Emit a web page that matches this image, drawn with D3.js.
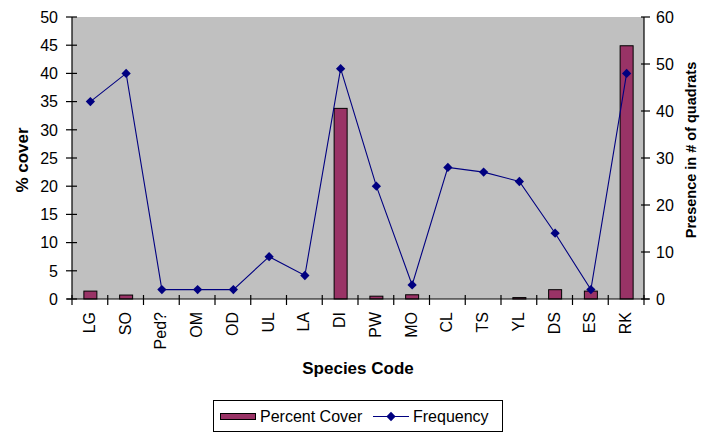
<!DOCTYPE html>
<html><head><meta charset="utf-8">
<script src="https://cdn.jsdelivr.net/npm/d3@7"></script>
<style>body{margin:0;background:#fff}svg{display:block}text{font-family:"Liberation Sans",Arial,sans-serif}</style>
</head><body>
<script>
const categories = ["LG","SO","Ped?","OM","OD","UL","LA","DI","PW","MO","CL","TS","YL","DS","ES","RK"];
const percentCover = [1.4,0.7,0,0,0,0,0,33.8,0.5,0.75,0,0,0.25,1.65,1.4,44.9];
const frequency = [42,48,2,2,2,9,5,49,24,3,28,27,25,14,2,48];
const leftTicks = [0,5,10,15,20,25,30,35,40,45,50];
const rightTicks = [0,10,20,30,40,50,60];

const W=709,H=433;
const m={l:72,r:65,t:17,b:134};
const svg=d3.select("body").append("svg").attr("width",W).attr("height",H);
const x=d3.scaleBand().domain(categories).range([m.l,W-m.r]);
const yL=d3.scaleLinear().domain([0,50]).range([H-m.b,m.t]);
const yR=d3.scaleLinear().domain([0,60]).range([H-m.b,m.t]);

svg.append("rect").attr("x",m.l).attr("y",m.t).attr("width",W-m.l-m.r).attr("height",H-m.t-m.b).attr("fill","#c0c0c0");

const bw=13;
svg.selectAll("rect.bar").data(categories).join("rect").attr("class","bar")
 .attr("x",d=>x(d)+x.bandwidth()/2-bw/2+0.5)
 .attr("y",(d,i)=>yL(percentCover[i]))
 .attr("width",bw)
 .attr("height",(d,i)=>yL(0)-yL(percentCover[i]))
 .attr("fill","#993366").attr("stroke","#000").attr("stroke-width",1);

const line=d3.line().x((d,i)=>x(categories[i])+x.bandwidth()/2+0.5).y(d=>yR(d));
svg.append("path").datum(frequency).attr("d",line).attr("fill","none").attr("stroke","#000080").attr("stroke-width",1.1);
const diamond=d3.symbol().type(d3.symbolDiamond2).size(55);
svg.selectAll("path.pt").data(frequency).join("path").attr("class","pt")
 .attr("transform",(d,i)=>`translate(${x(categories[i])+x.bandwidth()/2+0.5},${yR(d)})`)
 .attr("d",diamond).attr("fill","#000080");

// axes
const ax=svg.append("g").attr("stroke","#000").attr("stroke-width",1.2);
ax.append("line").attr("x1",m.l).attr("x2",m.l).attr("y1",m.t).attr("y2",H-m.b);
ax.append("line").attr("x1",W-m.r).attr("x2",W-m.r).attr("y1",m.t).attr("y2",H-m.b);
ax.append("line").attr("x1",m.l-5).attr("x2",W-m.r+5).attr("y1",H-m.b).attr("y2",H-m.b);
leftTicks.forEach(t=>ax.append("line").attr("x1",m.l-6).attr("x2",m.l+5).attr("y1",yL(t)).attr("y2",yL(t)));
rightTicks.forEach(t=>ax.append("line").attr("x1",W-m.r-3).attr("x2",W-m.r+6).attr("y1",yR(t)).attr("y2",yR(t)));
categories.forEach(c=>ax.append("line").attr("x1",x(c)).attr("x2",x(c)).attr("y1",H-m.b-4).attr("y2",H-m.b+6));
ax.append("line").attr("x1",W-m.r).attr("x2",W-m.r).attr("y1",H-m.b-4).attr("y2",H-m.b+6);

svg.selectAll("text.yl").data(leftTicks).join("text").attr("class","yl")
 .attr("x",m.l-14).attr("y",d=>yL(d)).attr("dy","0.36em").attr("text-anchor","end").attr("font-size",16).text(d=>d);
svg.selectAll("text.yr").data(rightTicks).join("text").attr("class","yr")
 .attr("x",W-m.r+12).attr("y",d=>yR(d)).attr("dy","0.36em").attr("text-anchor","start").attr("font-size",16).text(d=>d);
svg.selectAll("text.xl").data(categories).join("text").attr("class","xl")
 .attr("transform",d=>`translate(${x(d)+x.bandwidth()/2+5},${H-m.b+13}) rotate(-90)`)
 .attr("text-anchor","end").attr("font-size",16).text(d=>d);

svg.append("text").attr("transform","translate(28,160) rotate(-90)").attr("text-anchor","middle")
 .attr("font-size",17).attr("font-weight","bold").text("% cover");
svg.append("text").attr("transform","translate(696,150) rotate(-90)").attr("text-anchor","middle")
 .attr("font-size",14.5).attr("font-weight","bold").text("Presence in # of quadrats");
svg.append("text").attr("x",358).attr("y",374).attr("text-anchor","middle")
 .attr("font-size",17).attr("font-weight","bold").text("Species Code");

// legend
const lg=svg.append("g");
lg.append("rect").attr("x",213.5).attr("y",400.5).attr("width",289).attr("height",31).attr("fill","#fff").attr("stroke","#000");
lg.append("rect").attr("x",220.5).attr("y",413.5).attr("width",35).attr("height",6).attr("fill","#993366").attr("stroke","#000");
lg.append("text").attr("x",260).attr("y",422).attr("font-size",16).text("Percent Cover");
lg.append("line").attr("x1",373).attr("x2",409).attr("y1",416.5).attr("y2",416.5).attr("stroke","#000080");
lg.append("path").attr("transform","translate(391,416.5)").attr("d",diamond).attr("fill","#000080");
lg.append("text").attr("x",413).attr("y",422).attr("font-size",16).text("Frequency");
</script>
</body></html>
